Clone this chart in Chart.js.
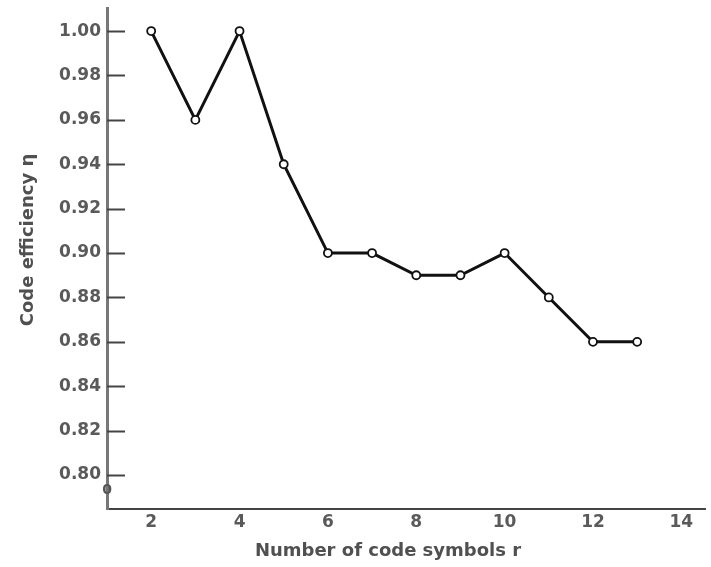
<!DOCTYPE html>
<html>
<head>
<meta charset="utf-8">
<script src="https://cdn.jsdelivr.net/npm/chart.js@4.4.0/dist/chart.umd.min.js"></script>
<style>
  html, body { margin: 0; padding: 0; background: #fff; }
  #wrap { width: 711px; height: 567px; position: relative; }
</style>
</head>
<body>
<div id="wrap"><canvas id="myChart" width="711" height="567"></canvas></div>
<script>
// code efficiency against number of code symbols
var symbols = [2, 3, 4, 5, 6, 7, 8, 9, 10, 11, 12, 13];
var efficiency = [1.00, 0.96, 1.00, 0.94, 0.90, 0.90, 0.89, 0.89, 0.90, 0.88, 0.86, 0.86];
var xTicks = [2, 4, 6, 8, 10, 12, 14];
var yTicks = [0.80, 0.82, 0.84, 0.86, 0.88, 0.90, 0.92, 0.94, 0.96, 0.98, 1.00];
var xTitle = "Number of code symbols r";
var yTitle = "Code efficiency η";

var points = [];
for (var i = 0; i < symbols.length; i++) {
  points.push({x: symbols[i], y: efficiency[i]});
}

var font = "'DejaVu Sans', sans-serif";
Chart.defaults.font.family = font;
Chart.defaults.color = "#555";

// tick marks pointing into the plot, axis titles and the little origin mark
var decorations = {
  id: "decorations",
  afterDraw: function(chart) {
    var ctx = chart.ctx;
    var y = chart.scales.y;
    var area = chart.chartArea;
    ctx.save();
    ctx.strokeStyle = "#444";
    ctx.lineWidth = 2;
    y.ticks.forEach(function(t) {
      var py = Math.round(y.getPixelForValue(t.value)) + 0.5;
      ctx.beginPath();
      ctx.moveTo(area.left, py);
      ctx.lineTo(area.left + 18, py);
      ctx.stroke();
    });
    ctx.fillStyle = "#555";
    ctx.textAlign = "center";
    ctx.textBaseline = "middle";
    ctx.font = "bold 14px " + font;
    ctx.fillText("0", area.left, area.bottom - 19);

    ctx.fillStyle = "#505050";
    ctx.font = "bold 18px " + font;
    ctx.fillText(xTitle, 388, 551);
    ctx.translate(28, 240);
    ctx.rotate(-Math.PI / 2);
    ctx.fillText(yTitle, 0, 0);
    ctx.restore();
  }
};

new Chart("myChart", {
  type: "line",
  data: {
    datasets: [{
      data: points,
      borderColor: "#111",
      borderWidth: 3,
      pointStyle: "circle",
      pointRadius: 4,
      pointBackgroundColor: "#fff",
      pointBorderColor: "#111",
      pointBorderWidth: 1.8,
      tension: 0
    }]
  },
  options: {
    responsive: false,
    animation: false,
    layout: {padding: {top: 8, right: 4, left: 0, bottom: 0}},
    plugins: {legend: {display: false}, tooltip: {enabled: false}},
    scales: {
      x: {
        type: "linear",
        min: 1,
        max: 14.54,
        afterBuildTicks: function(axis) {
          axis.ticks = xTicks.map(function(v) { return {value: v}; });
        },
        afterFit: function(axis) { axis.height = 58; },
        grid: {display: false, drawTicks: false},
        border: {display: true, color: "#444", width: 2},
        ticks: {padding: 3, font: {size: 17, weight: "bold"}, color: "#5a5a5a"}
      },
      y: {
        type: "linear",
        min: 0.7847,
        max: 1.0104,
        afterBuildTicks: function(axis) {
          axis.ticks = yTicks.map(function(v) { return {value: v}; });
        },
        afterFit: function(axis) {
          axis.width = 107;
          axis.paddingTop = 0;
          axis.paddingBottom = 0;
        },
        grid: {display: false, drawTicks: false},
        border: {display: true, color: "#777", width: 3},
        ticks: {
          padding: 6,
          font: {size: 17, weight: "bold"},
          color: "#5a5a5a",
          callback: function(v) { return v.toFixed(2); }
        }
      }
    }
  },
  plugins: [decorations]
});
</script>
</body>
</html>
